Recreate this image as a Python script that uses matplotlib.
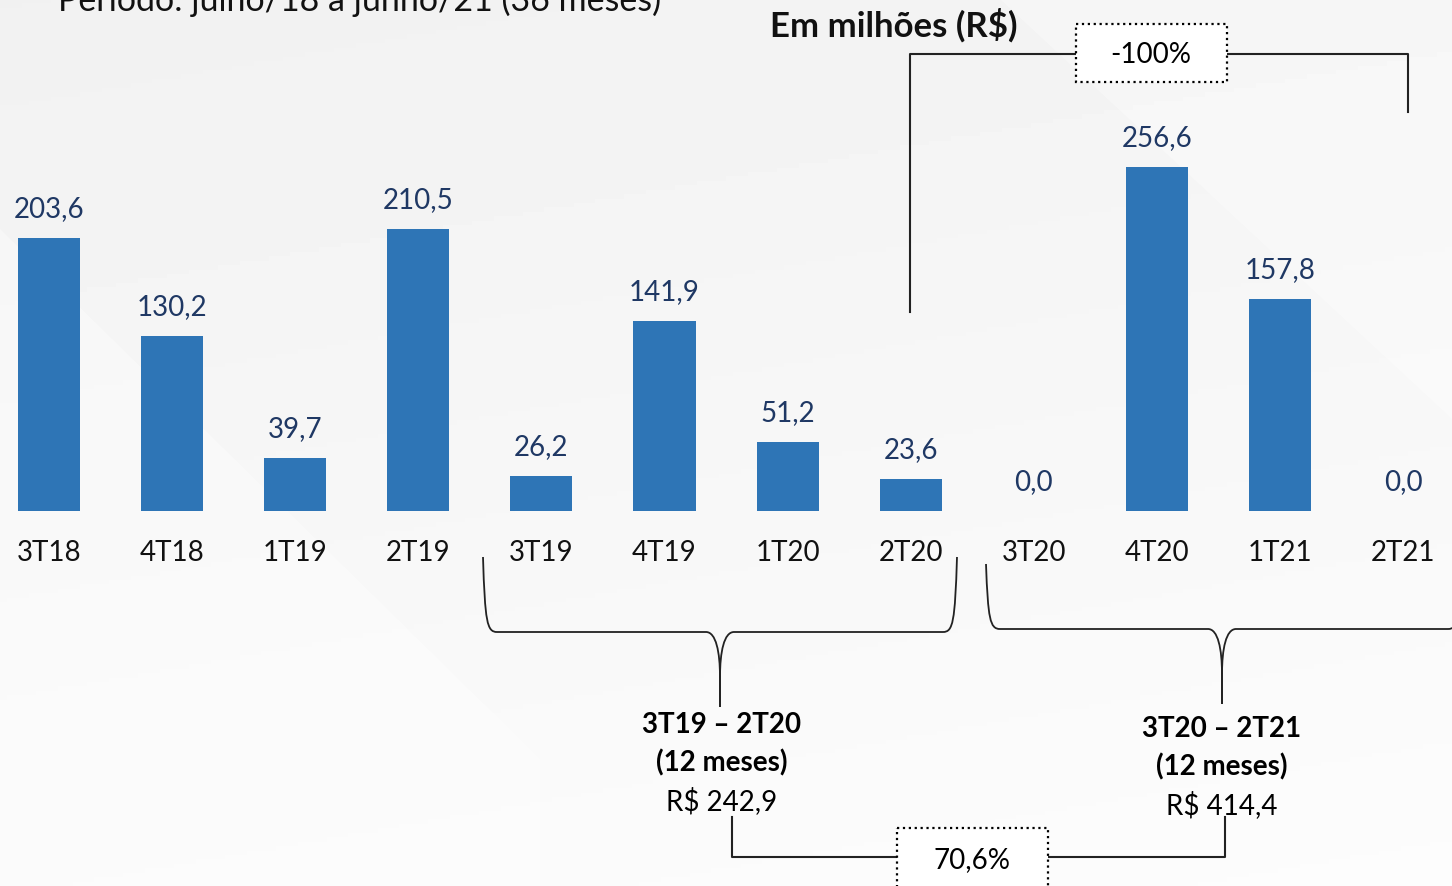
import numpy as np
import matplotlib.pyplot as plt
from matplotlib.patches import Rectangle, Polygon, PathPatch
from matplotlib.path import Path

plt.rcParams['font.family'] = ['Lato', 'DejaVu Sans']

# dados (R$ milhões por trimestre)
quarters = ["3T18", "4T18", "1T19", "2T19", "3T19", "4T19",
            "1T20", "2T20", "3T20", "4T20", "1T21", "2T21"]
values = [203.6, 130.2, 39.7, 210.5, 26.2, 141.9,
          51.2, 23.6, 0.0, 256.6, 157.8, 0.0]

periodo_1 = "3T19 – 2T20"
total_1 = 242.9
periodo_2 = "3T20 – 2T21"
total_2 = 414.4
var_12m = 70.6
var_2t = -100


def br(v):
    return f"{v:.1f}".replace('.', ',')


W, H = 1452, 887
fig = plt.figure(figsize=(W / 100, H / 100), dpi=100)
fig.patch.set_facecolor('#f6f6f6')

# camada de fundo / anotações em pixels
ov = fig.add_axes([0, 0, 1, 1])
yy, xx = np.mgrid[0:1:200j, 0:1:200j]
grad = 0.945 + 0.035 * yy + 0.01 * xx
ov.imshow(grad, cmap='gray', vmin=0, vmax=1, extent=(0, W, H, 0), aspect='auto', zorder=0)
ov.add_patch(Polygon([(0, 230), (540, 760), (540, 887), (0, 887)], closed=True,
                     fc='white', ec='none', alpha=0.35, zorder=0.5))
ov.add_patch(Polygon([(1000, 0), (1452, 0), (1452, 420)], closed=True,
                     fc='white', ec='none', alpha=0.3, zorder=0.5))
ov.set_xlim(0, W)
ov.set_ylim(H, 0)
ov.axis('off')

# eixo dos dados
ax = fig.add_axes([0, 0, 1, 1], zorder=2)
ax.patch.set_alpha(0)
step = 123.1     # px entre barras
px_unit = 1.341  # px por R$ milhão
ax.set_xlim(-49 / step, (W - 49) / step)
ax.set_ylim(-(H - 512) / px_unit, 512 / px_unit)
ax.axis('off')

x = np.arange(len(quarters))
ax.bar(x, values, width=0.504, color='#2E75B6', linewidth=0)
for i, v in enumerate(values):
    ax.annotate(br(v), (i, v), xytext=(0, 30 * 0.72), textcoords='offset points',
                ha='center', va='center', color='#1F3864', fontsize=20)
    ax.annotate(quarters[i], (i, 0), xytext=(0, -41 * 0.72), textcoords='offset points',
                ha='center', va='center', color='#111111', fontsize=20)

# textos de cabeçalho
ov.text(58, 11, "Período: julho/18 a junho/21 (36 meses)", fontsize=24.5,
        va='baseline', ha='left', color='#111111')
ov.text(894, 25, "Em milhões (R$)", fontsize=25, fontweight='bold',
        ha='center', va='center', color='#111111')

# conector superior (2T20 x 2T21)
lc = '#222222'
ov.plot([910, 910, 1076], [313, 55, 55], color=lc, lw=1.5, zorder=3)
ov.plot([1227, 1408, 1408], [55, 55, 113], color=lc, lw=1.5, zorder=3)
ov.add_patch(Rectangle((1076, 25), 151, 58, fc='white', ec='black', ls=':', lw=1.6, zorder=4))
ov.text(1151, 55, f"{var_2t}%", fontsize=20, ha='center', va='center', zorder=5)


def brace(x0, x1, ytop, ymid, xc, ybot):
    for xa, s in ((x0, 1), (x1, -1)):
        verts = [(xa, ytop), (xa + 2 * s, ymid - 10), (xa + 4 * s, ymid), (xa + 14 * s, ymid),
                 (xc - 14 * s, ymid), (xc - 4 * s, ymid), (xc, ymid + 20), (xc, ymid + 45),
                 (xc, ybot)]
        codes = [Path.MOVETO, Path.CURVE4, Path.CURVE4, Path.CURVE4, Path.LINETO,
                 Path.CURVE4, Path.CURVE4, Path.CURVE4, Path.LINETO]
        ov.add_patch(PathPatch(Path(verts, codes), fc='none', ec=lc, lw=1.3, zorder=3))


brace(483, 957, 558, 633, 720, 708)
brace(986, 1462, 565, 630, 1222, 705)

for xc, y0, per, tot in ((722, 725, periodo_1, total_1), (1222, 729, periodo_2, total_2)):
    ov.text(xc, y0, per, fontsize=20, fontweight='bold', ha='center', va='center')
    ov.text(xc, y0 + 38, "(12 meses)", fontsize=20, fontweight='bold', ha='center', va='center')
    ov.text(xc, y0 + 76, "R$ " + br(tot), fontsize=20, ha='center', va='center')

# conector inferior (12 meses x 12 meses)
ov.plot([732, 732, 897], [818, 858, 858], color=lc, lw=1.5, zorder=3)
ov.plot([1048, 1225, 1225], [858, 858, 818], color=lc, lw=1.5, zorder=3)
ov.add_patch(Rectangle((897, 829), 151, 70, fc='white', ec='black', ls=':', lw=1.6, zorder=4))
ov.text(972, 860, br(var_12m) + "%", fontsize=20, ha='center', va='center', zorder=5)

plt.savefig("out.png", dpi=100, facecolor=fig.get_facecolor())
